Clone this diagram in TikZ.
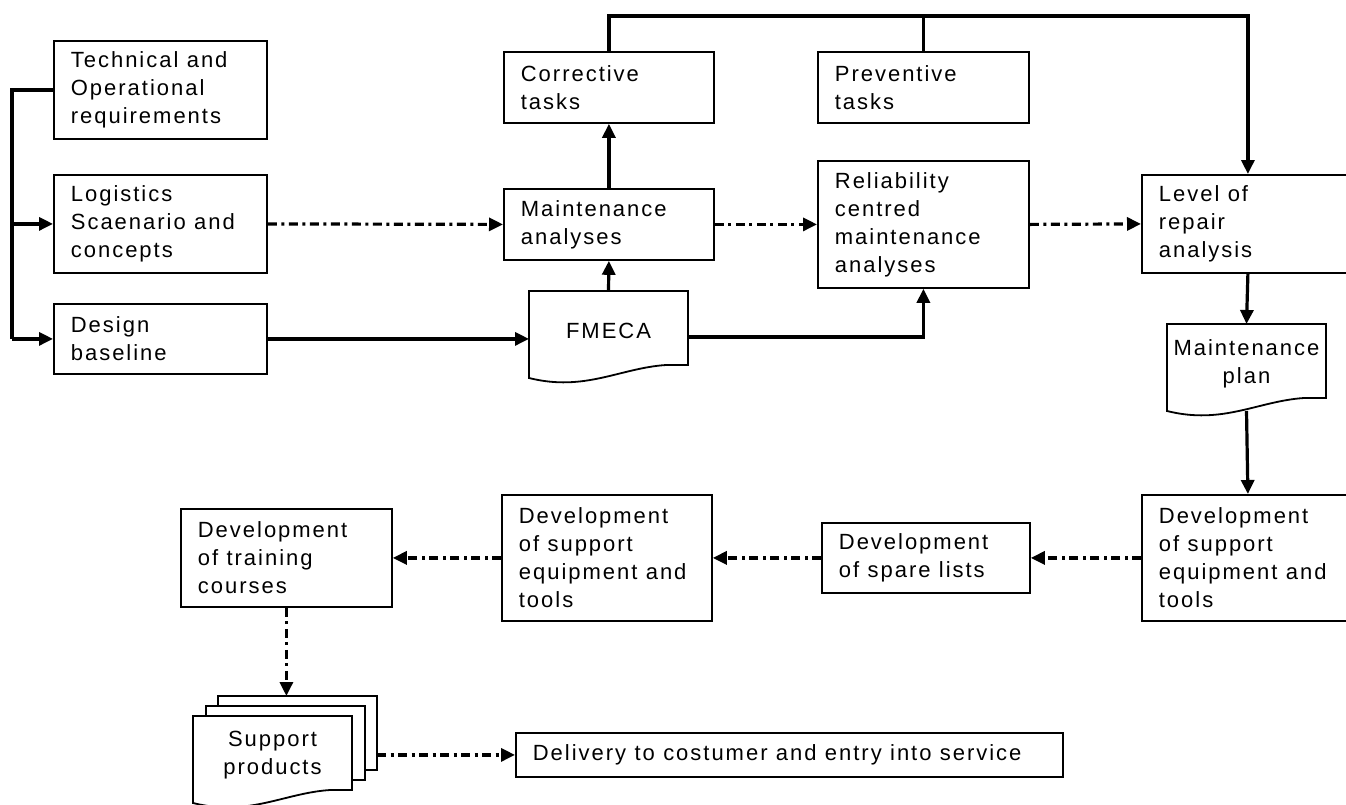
\documentclass[tikz,border=0pt]{standalone}
\usepackage{fontspec}
\setmainfont{Liberation Sans}[LetterSpace=9]
\usetikzlibrary{arrows.meta}
\tikzset{
  txt/.style={font=\fontsize{22}{28}\selectfont},
  box/.style={txt, draw, line width=1.8pt, fill=white, inner xsep=17pt, inner ysep=0pt,
              align=left, anchor=north west},
  docanc/.style={anchor=north west, inner sep=0pt, outer sep=0pt, minimum width=159pt, minimum height=92pt},
  docline/.style={line width=1.8pt, fill=white},
  conn/.style={line width=3.2pt},
  dd/.style={line width=3.2pt, dash pattern=on 9pt off 4.5pt on 3pt off 4.5pt},
  tip/.style={-{Triangle[length=14pt,width=13pt]}}
}
\newcommand\docshape[1]{%
  \draw[docline, shift={(#1.north west)}] (0,0) -- (159,0) -- (159,74) -- (137,74)
    .. controls (91,77) and (56,101) .. (0,87) -- cycle;}
\newcommand\wsp{\nobreak\hspace{0.38em}}
\begin{document}
\begin{tikzpicture}[x=1pt,y=-1pt]
\useasboundingbox (0,0) rectangle (1346,804);
\clip (0,0) rectangle (1346,804);

% boxes
\node[box, minimum width=213pt, minimum height=98pt, text width=179pt] (tech) at (53,40) {Technical\wsp and\\Operational\\requirements};
\node[box, minimum width=213pt, minimum height=98pt, text width=179pt] (logi) at (53,174) {Logistics\\Scaenario\wsp and\\concepts};
\node[box, minimum width=213pt, minimum height=70pt, text width=179pt] (design) at (53,303) {Design\\baseline};
\node[box, minimum width=210pt, minimum height=71pt, text width=176pt] (corr) at (503,51) {Corrective\\tasks};
\node[box, minimum width=211pt, minimum height=71pt, text width=177pt] (prev) at (817,51) {Preventive\\tasks};
\node[box, minimum width=210pt, minimum height=71pt, text width=176pt] (maint) at (503,188) {Maintenance\\analyses};
\node[box, minimum width=211pt, minimum height=127pt, text width=177pt] (rel) at (817,160) {Reliability\\centred\\maintenance\\analyses};
\node[box, minimum width=212pt, minimum height=98pt, text width=178pt] (level) at (1141,174) {Level\wsp of\\repair\\analysis};
\node[box, minimum width=212pt, minimum height=126pt, text width=178pt] (devR) at (1141,494) {Development\\of\wsp support\\equipment\wsp and\\tools};
\node[box, minimum width=208pt, minimum height=70pt, text width=174pt] (spare) at (821,522) {Development\\of\wsp spare\wsp lists};
\node[box, minimum width=210pt, minimum height=126pt, text width=176pt] (devM) at (501,494) {Development\\of\wsp support\\equipment\wsp and\\tools};
\node[box, minimum width=211pt, minimum height=98pt, text width=177pt] (train) at (180,508) {Development\\of\wsp training\\courses};
\node[box, minimum width=547pt, minimum height=44pt, text width=513pt] (deliv) at (515,732) {Delivery\wsp to\wsp costumer\wsp and\wsp entry\wsp into\wsp service};

% document shapes
\node[docanc] (fmeca) at (529,291) {};
\docshape{fmeca}
\node[txt] (fmecat) at ([yshift=-40pt]fmeca.north) {FMECA};

\node[docanc] (mplan) at (1167,324) {};
\docshape{mplan}
\node[txt, align=center] (mplant) at ([yshift=-40pt]mplan.north) {Maintenance\\plan};

\node[docanc] (spback) at (218,696) {};
\node[docanc] (spmid) at (206,706) {};
\node[docanc] (spfront) at (193,716) {};
\docshape{spback}
\docshape{spmid}
\docshape{spfront}
\node[txt, align=center, inner sep=0pt] (spt) at ([yshift=-39pt]spfront.north) {Support\\products};

% left bus
\coordinate (bus) at (12,89);
\draw[conn] (tech.west) -| (bus |- design.west);
\draw[conn,tip] (bus |- logi.west) -- (logi.west);
\draw[conn,tip] (bus |- design.west) -- (design.west);

% top line
\coordinate (top) at (0,16);
\draw[conn,tip] (corr.north) -- (corr.north |- top) -| (level.north);
\draw[conn] (prev.north) -- (prev.north |- top);

% solid connectors
\draw[conn,tip] (maint.north) -- (corr.south);
\draw[conn,tip] (fmeca.north) -- (maint.south);
\draw[conn,tip] (design.east) -- (design.east -| fmeca.west);
\draw[conn,tip] (fmeca.east) -| (rel.south);
\draw[conn,tip] (level.south) -- (mplan.north);
\draw[conn,tip] ([yshift=5pt]mplan.south) -- (devR.north);

% dash-dot connectors
\draw[dd,tip] (logi.east) -- (maint.west);
\draw[dd,tip] (maint.east) -- (rel.west);
\draw[dd,tip] (rel.east) -- (level.west);
\draw[dd,tip] (devR.west) -- (spare.east);
\draw[dd,tip] (spare.west) -- (devM.east);
\draw[dd,tip] (devM.west) -- (devM.west -| train.east);
\draw[dd,tip] (train.south) -- (train.south |- spback.north);
\draw[dd,tip] (spback.east |- deliv.west) -- (deliv.west);
\end{tikzpicture}
\end{document}
